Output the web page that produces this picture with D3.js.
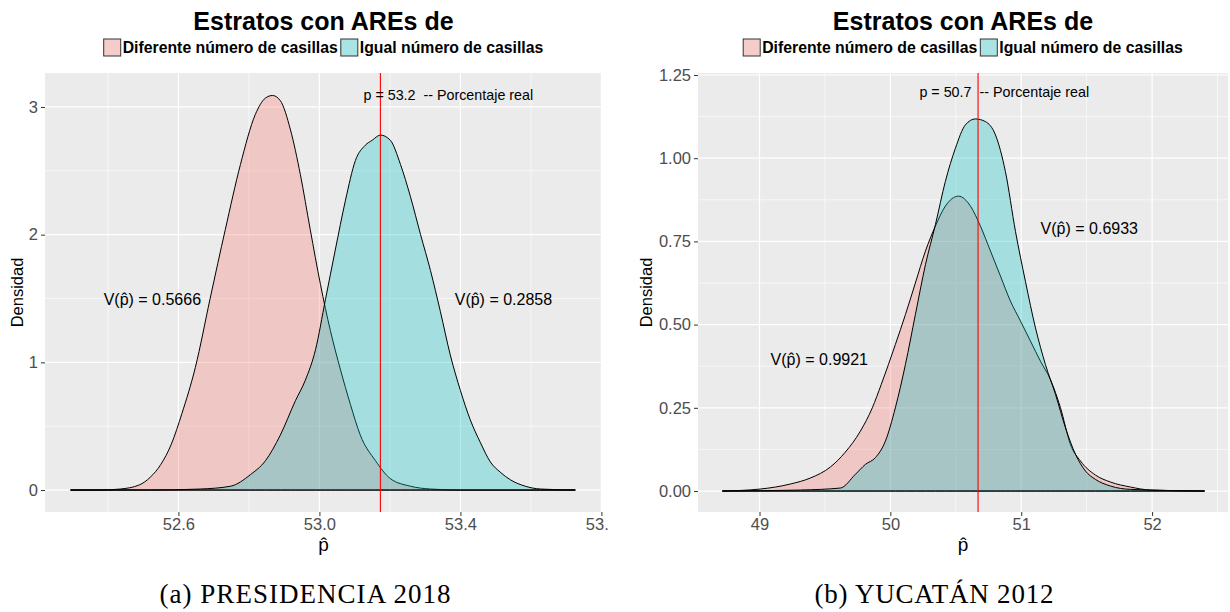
<!DOCTYPE html>
<html lang="es">
<head>
<meta charset="UTF-8">
<title>Estratos con AREs de</title>
<script src="https://d3js.org/d3.v7.min.js"></script>
<style>
  body { margin: 0; background: #fff; }
  text { font-family: "Liberation Sans", Arial, sans-serif; }
  .tick-label { font-size: 16.5px; fill: #4d4d4d; }
  .axis-title { font-size: 16.5px; fill: #000; }
  .title { font-size: 25px; font-weight: bold; text-anchor: middle; }
  .legend-text { font-size: 15.8px; font-weight: bold; }
  .note { font-size: 14.3px; fill: #000; }
  .var-label { font-size: 16px; fill: #000; text-anchor: middle; }
  .caption { font-family: "Liberation Serif", "DejaVu Serif", serif; font-size: 27px; text-anchor: middle; }
</style>
</head>
<body>
<div id="chart"></div>
<script>
// groups shown in both panels
const groups = ["Diferente número de casillas", "Igual número de casillas"];
const groupColors = ["#F8766D", "#00BFC4"];

// (a) PRESIDENCIA 2018 -- density of p-hat, [p-hat, densidad]
const pres2018Diferente = [
  [52.294, 0], [52.376, 0], [52.435, 0.008], [52.489, 0.04], [52.52, 0.10],
  [52.55, 0.2], [52.58, 0.36], [52.61, 0.6], [52.648, 0.96], [52.69, 1.5],
  [52.733, 2.04], [52.776, 2.55], [52.818, 2.94], [52.847, 3.07], [52.867, 3.09],
  [52.889, 3.05], [52.918, 2.82], [52.946, 2.47], [52.974, 2.04], [53.003, 1.61],
  [53.031, 1.25], [53.06, 0.94], [53.088, 0.67], [53.116, 0.43], [53.159, 0.23],
  [53.201, 0.09], [53.258, 0.03], [53.315, 0.008], [53.4, 0], [53.726, 0]
];
const pres2018Igual = [
  [52.294, 0], [52.521, 0], [52.662, 0.008], [52.748, 0.03], [52.804, 0.12],
  [52.847, 0.23], [52.889, 0.43], [52.932, 0.7], [52.96, 0.86], [52.989, 1.1],
  [53.017, 1.49], [53.045, 1.88], [53.074, 2.27], [53.102, 2.58], [53.13, 2.7],
  [53.15, 2.74], [53.173, 2.78], [53.201, 2.74], [53.23, 2.55], [53.258, 2.3],
  [53.287, 2.0], [53.315, 1.72], [53.343, 1.4], [53.372, 1.05], [53.4, 0.78],
  [53.428, 0.55], [53.457, 0.37], [53.485, 0.22], [53.513, 0.14], [53.542, 0.08],
  [53.584, 0.03], [53.627, 0.008], [53.726, 0]
];
const pres2018Varianzas = [0.5666, 0.2858];
const pres2018Real = 53.173;
const pres2018XTicks = [52.6, 53.0, 53.4, 53.8];
const pres2018YTicks = [0, 1, 2, 3];

// (b) YUCATÁN 2012
const yuc2012Diferente = [
  [48.716, 0], [49.006, 0.006], [49.235, 0.021], [49.388, 0.039], [49.541, 0.072],
  [49.656, 0.117], [49.771, 0.18], [49.862, 0.25], [49.93, 0.32], [49.985, 0.38],
  [50.038, 0.44], [50.115, 0.53], [50.191, 0.625], [50.268, 0.721], [50.344, 0.796],
  [50.42, 0.856], [50.52, 0.886], [50.612, 0.856], [50.688, 0.796], [50.765, 0.721],
  [50.841, 0.646], [50.917, 0.571], [50.994, 0.511], [51.07, 0.451], [51.147, 0.39],
  [51.223, 0.335], [51.3, 0.25], [51.376, 0.14], [51.453, 0.09], [51.567, 0.048],
  [51.682, 0.027], [51.835, 0.012], [51.988, 0.003], [52.401, 0]
];
const yuc2012Igual = [
  [48.716, 0], [49.312, 0.003], [49.618, 0.009], [49.732, 0.05], [49.809, 0.08],
  [49.885, 0.1], [49.962, 0.15], [50.038, 0.25], [50.115, 0.38], [50.191, 0.53],
  [50.268, 0.68], [50.344, 0.8], [50.42, 0.93], [50.497, 1.03], [50.573, 1.1],
  [50.65, 1.118], [50.726, 1.11], [50.803, 1.07], [50.879, 0.96], [50.956, 0.78],
  [51.032, 0.63], [51.109, 0.49], [51.185, 0.38], [51.262, 0.29], [51.338, 0.19],
  [51.415, 0.11], [51.491, 0.06], [51.567, 0.035], [51.682, 0.015], [51.835, 0.005],
  [52.401, 0]
];
const yuc2012Varianzas = [0.9921, 0.6933];
const yuc2012Real = 50.67;
const yuc2012XTicks = [49, 50, 51, 52];
const yuc2012YTicks = [0, 0.25, 0.5, 0.75, 1.0, 1.25];

const title = "Estratos con AREs de";
const captions = ["(a) PRESIDENCIA 2018", "(b) YUCATÁN 2012"];

const svg = d3.select("#chart").append("svg")
  .attr("width", 1230).attr("height", 612);

// left figure is cropped on its right side
svg.append("defs").append("clipPath").attr("id", "clipA")
  .append("rect").attr("x", 0).attr("y", 0).attr("width", 609).attr("height", 612);

function minorTicks(ticks, domain) {
  const step = ticks[1] - ticks[0];
  const out = [];
  for (let v = ticks[0] - step / 2; v < domain[1]; v += step) {
    if (v > domain[0]) out.push(v);
  }
  return out;
}

function drawPanel(p) {
  const g = svg.append("g").attr("clip-path", p.clip ? `url(#${p.clip})` : null);
  const x = d3.scaleLinear().domain(p.xDomain).range([p.left, p.right]);
  const y = d3.scaleLinear().domain(p.yDomain).range([p.bottom, p.top]);
  const cx = (p.left + p.right) / 2;

  // panel + grid
  g.append("rect")
    .attr("x", p.left).attr("y", p.top)
    .attr("width", p.right - p.left).attr("height", p.bottom - p.top)
    .attr("fill", "#ebebeb");

  const grid = g.append("g").attr("stroke", "#fff");
  grid.selectAll(".xm").data(minorTicks(p.xTicks, p.xDomain)).enter().append("line")
    .attr("x1", d => x(d)).attr("x2", d => x(d)).attr("y1", p.top).attr("y2", p.bottom)
    .attr("stroke-width", 0.6);
  grid.selectAll(".ym").data(minorTicks(p.yTicks, p.yDomain)).enter().append("line")
    .attr("y1", d => y(d)).attr("y2", d => y(d)).attr("x1", p.left).attr("x2", p.right)
    .attr("stroke-width", 0.6);
  grid.selectAll(".xM").data(p.xTicks).enter().append("line")
    .attr("x1", d => x(d)).attr("x2", d => x(d)).attr("y1", p.top).attr("y2", p.bottom)
    .attr("stroke-width", 1.2);
  grid.selectAll(".yM").data(p.yTicks).enter().append("line")
    .attr("y1", d => y(d)).attr("y2", d => y(d)).attr("x1", p.left).attr("x2", p.right)
    .attr("stroke-width", 1.2);

  // densities
  const area = d3.area()
    .x(d => x(d[0])).y0(y(0)).y1(d => y(d[1]))
    .curve(d3.curveMonotoneX);
  p.series.forEach((s, i) => {
    g.append("path").datum(s)
      .attr("d", area)
      .attr("fill", groupColors[i]).attr("fill-opacity", 0.3)
      .attr("stroke", "#000").attr("stroke-width", 1);
  });

  // real percentage
  g.append("line")
    .attr("x1", x(p.real)).attr("x2", x(p.real))
    .attr("y1", p.top).attr("y2", p.bottom)
    .attr("stroke", "red").attr("stroke-width", 1.1);

  g.append("text").attr("class", "note")
    .attr("x", x(p.noteX)).attr("y", y(p.noteY) + 5)
    .attr("xml:space", "preserve")
    .text(`p = ${d3.format(".1f")(p.real)}  -- Porcentaje real`);

  // variance labels
  p.varPos.forEach((pos, i) => {
    g.append("text").attr("class", "var-label")
      .attr("x", x(pos[0])).attr("y", y(pos[1]) + 6)
      .text(`V(p\u0302) = ${d3.format(".4f")(p.varianzas[i])}`);
  });

  // axes
  const xAxis = g.append("g")
    .attr("transform", `translate(0,${p.bottom})`)
    .call(d3.axisBottom(x).tickValues(p.xTicks).tickSize(4).tickPadding(2).tickFormat(p.xFormat));
  const yAxis = g.append("g")
    .attr("transform", `translate(${p.left},0)`)
    .call(d3.axisLeft(y).tickValues(p.yTicks).tickSize(4).tickPadding(3).tickFormat(p.yFormat));
  [xAxis, yAxis].forEach(a => {
    a.select(".domain").remove();
    a.selectAll(".tick line").attr("stroke", "#333");
    a.selectAll(".tick text").attr("class", "tick-label").attr("font-family", null).attr("font-size", null);
  });

  // axis titles
  g.append("text").attr("class", "axis-title")
    .attr("transform", `translate(${p.left - p.yTitleOffset},${(p.top + p.bottom) / 2}) rotate(-90)`)
    .attr("text-anchor", "middle").attr("dy", "0.35em")
    .text("Densidad");
  g.append("text").attr("class", "axis-title")
    .attr("x", cx).attr("y", 551).attr("text-anchor", "middle")
    .style("font-size", "19px")
    .text("p\u0302");

  // title + legend
  g.append("text").attr("class", "title").attr("x", cx).attr("y", 30).text(title);
  const leg = g.append("g");
  let lx = 0;
  groups.forEach((name, i) => {
    leg.append("rect").attr("x", lx).attr("y", 39).attr("width", 17).attr("height", 17)
      .attr("fill", "#f2f2f2");
    leg.append("rect").attr("x", lx).attr("y", 39).attr("width", 17).attr("height", 17)
      .attr("fill", groupColors[i]).attr("fill-opacity", 0.3)
      .attr("stroke", "#333").attr("stroke-width", 1);
    const t = leg.append("text").attr("class", "legend-text")
      .attr("x", lx + 19).attr("y", 53).text(name);
    lx += 19 + t.node().getComputedTextLength() + 3;
  });
  leg.attr("transform", `translate(${cx - (lx - 3) / 2},0)`);

  // caption
  g.append("text").attr("class", "caption")
    .attr("x", p.captionX).attr("y", 603)
    .attr("textLength", p.captionWidth).attr("lengthAdjust", "spacing")
    .text(p.caption);
}

drawPanel({
  clip: "clipA",
  left: 45, right: 602, top: 73, bottom: 512,
  xDomain: [52.2215, 53.8017], yDomain: [-0.172, 3.266],
  xTicks: pres2018XTicks, yTicks: pres2018YTicks,
  xFormat: d3.format(".1f"), yFormat: d3.format("d"),
  series: [pres2018Diferente, pres2018Igual],
  real: pres2018Real, noteX: 53.125, noteY: 3.09,
  varianzas: pres2018Varianzas, varPos: [[52.526, 1.5], [53.522, 1.5]],
  yTitleOffset: 28,
  caption: captions[0], captionX: 305, captionWidth: 291
});

drawPanel({
  left: 698, right: 1228, top: 73, bottom: 512,
  xDomain: [48.53, 52.58], yDomain: [-0.063, 1.256],
  xTicks: yuc2012XTicks, yTicks: yuc2012YTicks,
  xFormat: d3.format("d"), yFormat: d3.format(".2f"),
  series: [yuc2012Diferente, yuc2012Igual],
  real: yuc2012Real, noteX: 50.222, noteY: 1.2,
  varianzas: yuc2012Varianzas, varPos: [[49.457, 0.397], [51.52, 0.79]],
  yTitleOffset: 52,
  caption: captions[1], captionX: 934, captionWidth: 239
});
</script>
</body>
</html>
